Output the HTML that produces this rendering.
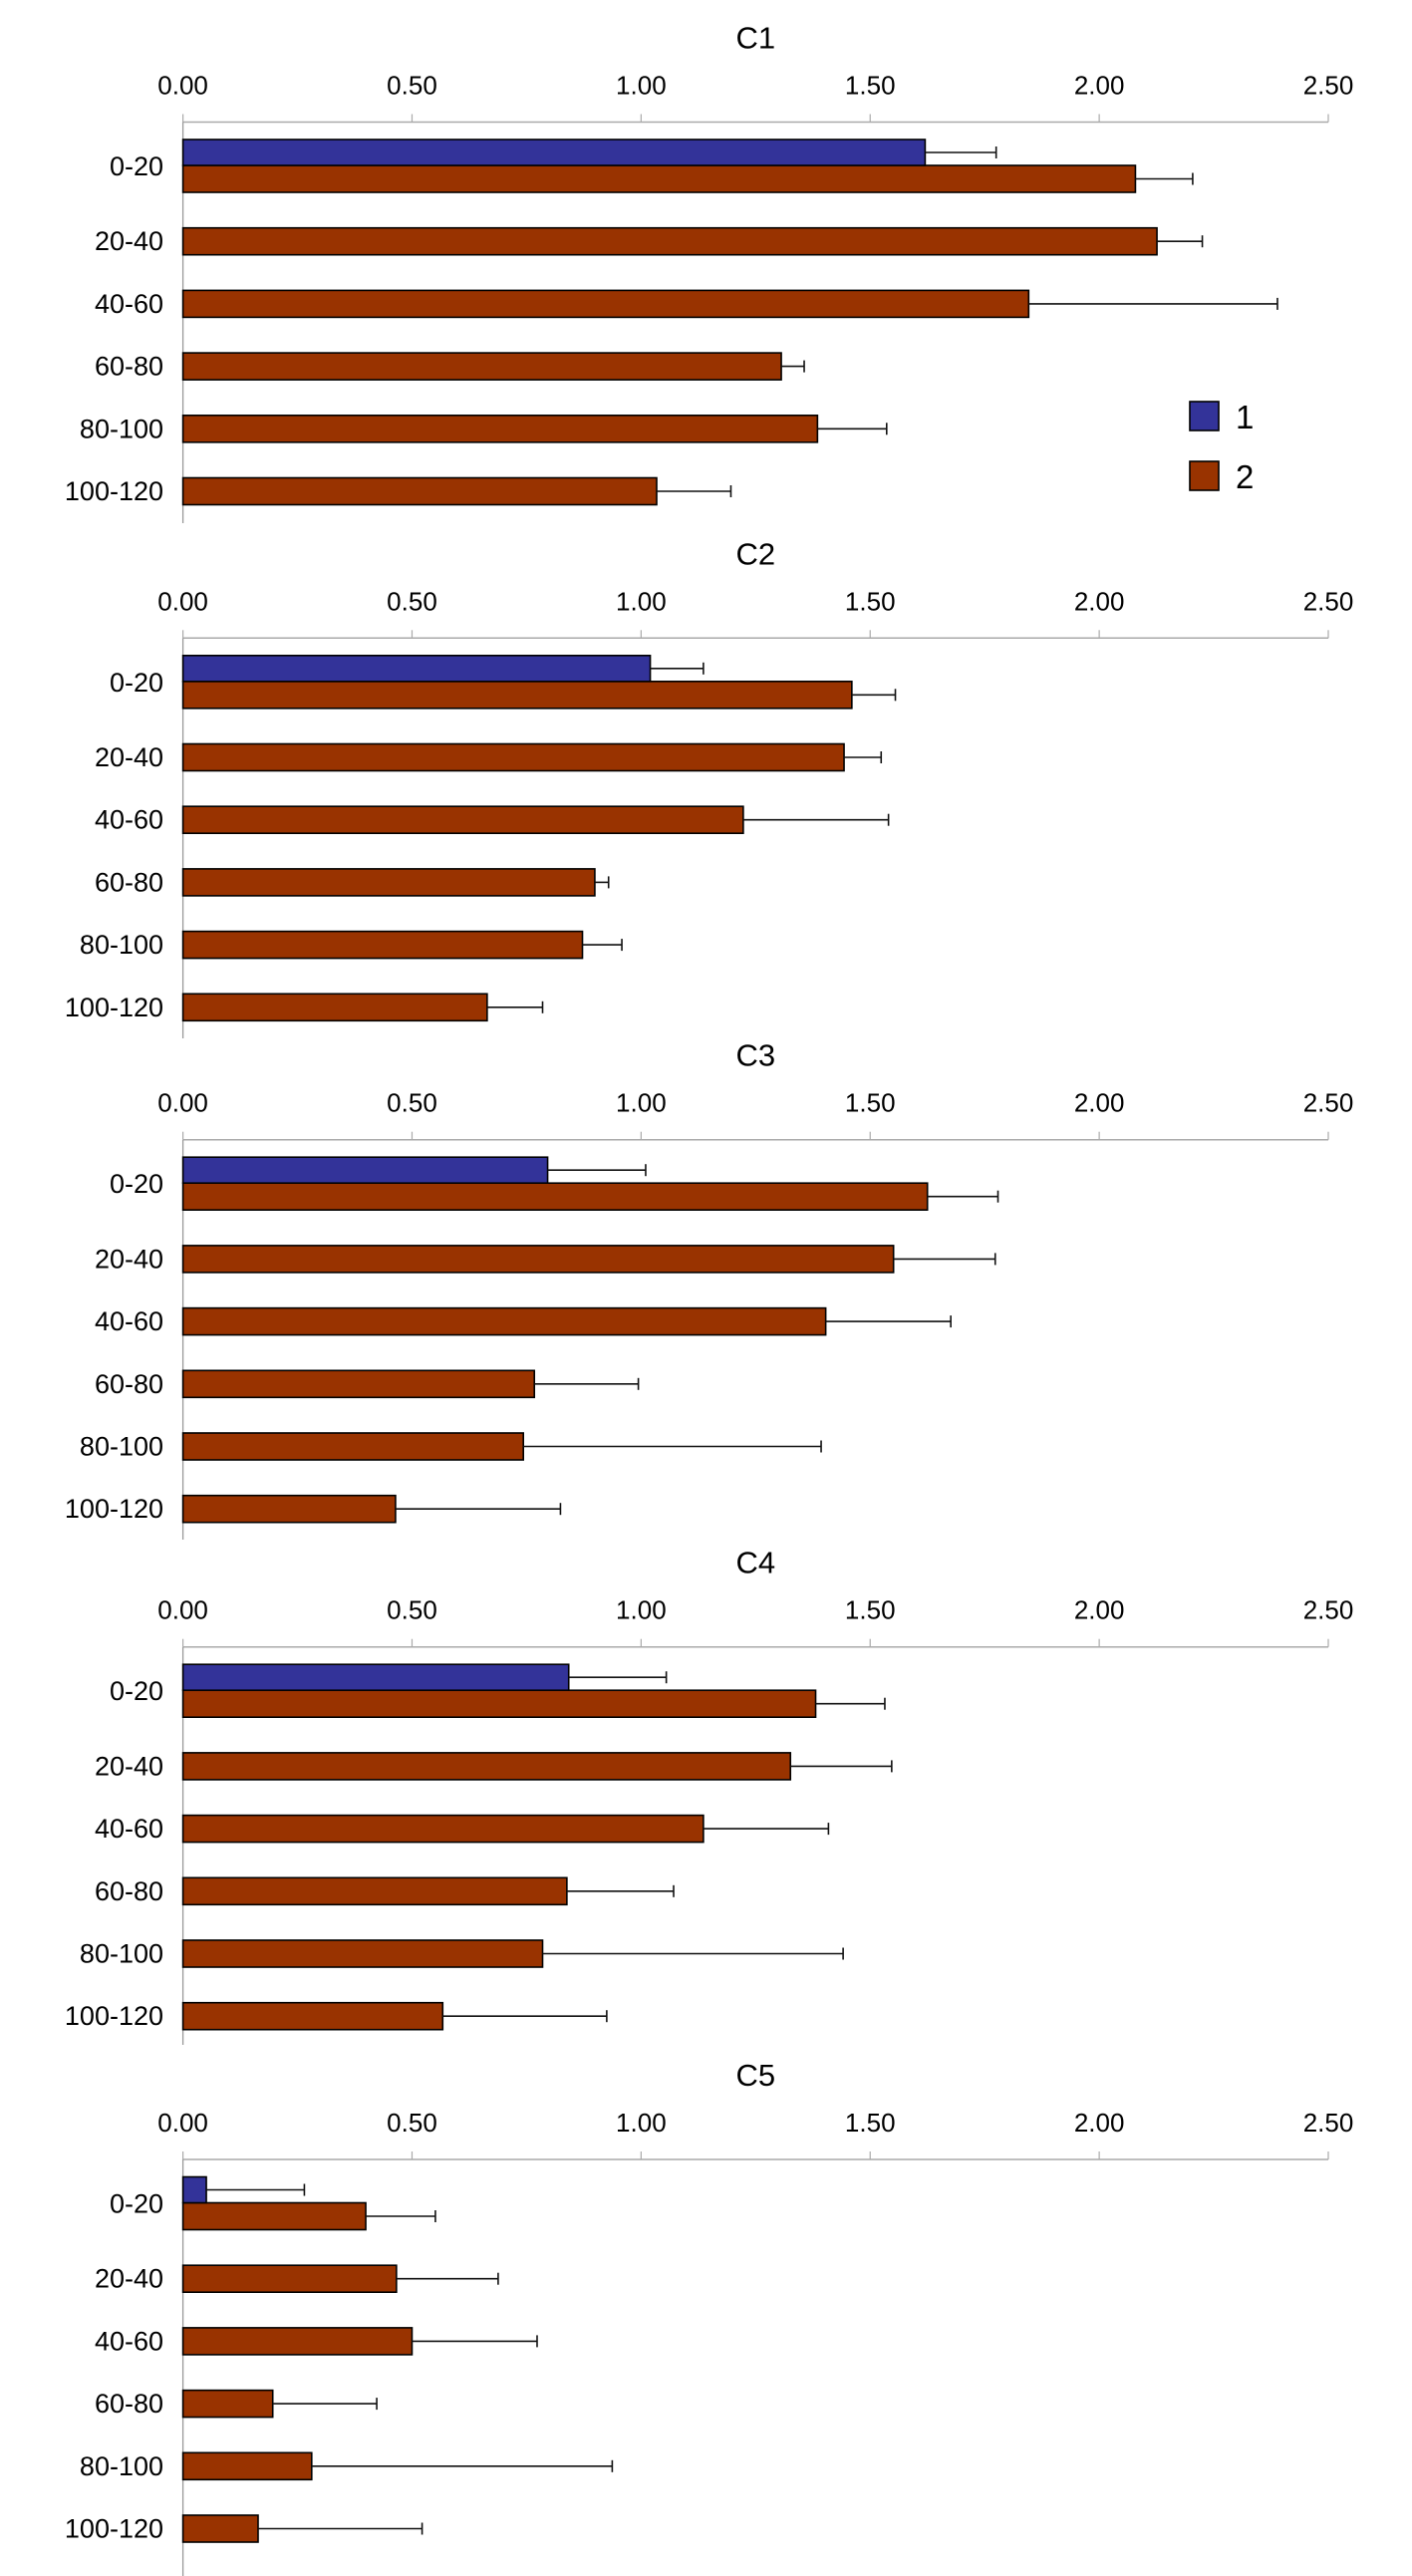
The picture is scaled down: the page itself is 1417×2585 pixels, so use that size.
<!DOCTYPE html>
<html><head><meta charset="utf-8">
<style>
html,body{margin:0;padding:0;background:#fff;}
svg{display:block;}
text{font-family:"Liberation Sans",Arial,sans-serif;fill:#000;}
</style></head>
<body>
<svg id="chart" width="1417" height="2585" viewBox="0 0 1417 2585" xmlns="http://www.w3.org/2000/svg"></svg>
<script>
const categories = ["0-20","20-40","40-60","60-80","80-100","100-120"];
const panelTitles = ["C1","C2","C3","C4","C5"];
const tickValues = [0,0.5,1,1.5,2,2.5];
const tickLabels = ["0.00","0.50","1.00","1.50","2.00","2.50"];
// series 1 (only 0-20), per panel
const series1 = [1.62, 1.02, 0.796, 0.842, 0.051];
const series1Err = [1.775, 1.136, 1.010, 1.055, 0.265];
// series 2 per panel
const c1Series2 = [2.079, 2.126, 1.846, 1.306, 1.385, 1.034];
const c1Series2Err = [2.204, 2.225, 2.389, 1.356, 1.536, 1.196];
const c2Series2 = [1.460, 1.443, 1.223, 0.899, 0.872, 0.664];
const c2Series2Err = [1.555, 1.524, 1.540, 0.929, 0.958, 0.785];
const c3Series2 = [1.625, 1.551, 1.403, 0.767, 0.743, 0.464];
const c3Series2Err = [1.779, 1.773, 1.676, 0.994, 1.393, 0.824];
const c4Series2 = [1.381, 1.326, 1.136, 0.838, 0.785, 0.567];
const c4Series2Err = [1.532, 1.547, 1.409, 1.071, 1.441, 0.925];
const c5Series2 = [0.399, 0.466, 0.500, 0.196, 0.281, 0.164];
const c5Series2Err = [0.551, 0.688, 0.773, 0.423, 0.937, 0.522];
const series2 = [c1Series2, c2Series2, c3Series2, c4Series2, c5Series2];
const series2Err = [c1Series2Err, c2Series2Err, c3Series2Err, c4Series2Err, c5Series2Err];

const svg = document.getElementById('chart');
const NS = 'http://www.w3.org/2000/svg';
const X0 = 183.6, X1 = 1333, VMAX = 2.5;
const axisYs = [122.5, 640.3, 1143.7, 1652.7, 2167];
const vBottoms = [525, 1042, 1545, 2052, 2585];
function xs(v){ return X0 + (v / VMAX) * (X1 - X0); }
function mk(tag, attrs, parent){
  const e = document.createElementNS(NS, tag);
  for (const k in attrs) e.setAttribute(k, attrs[k]);
  (parent || svg).appendChild(e);
  return e;
}
function errBar(g, x1, x2, cy){
  const l = mk('line', {x1:x1, x2:x2, y1:cy, y2:cy, stroke:'#111', 'stroke-width':1.6}, g);
  
  
  const c = mk('line', {x1:x2, x2:x2, y1:cy-6, y2:cy+6, stroke:'#111', 'stroke-width':1.6}, g);
  
  
}
for (let p = 0; p < 5; p++){
  const A = axisYs[p];
  const g = mk('g', {});
  
  
  const t = mk('text', {x:(X0+X1)/2, y:A-74, 'font-size':31, 'text-anchor':'middle'}, g);
  t.textContent = panelTitles[p];
  
  
  const ax = mk('line', {x1:X0, x2:X1, y1:A, y2:A, stroke:'#aaa', 'stroke-width':1.5}, g);
  
  
  const ya = mk('line', {x1:X0, x2:X0, y1:A, y2:vBottoms[p], stroke:'#999', 'stroke-width':1.3}, g);
  
  
  tickValues.forEach((v, i) => {
    const tk = mk('line', {x1:xs(v), x2:xs(v), y1:A-8, y2:A, stroke:'#aaa', 'stroke-width':1.2}, g);
    
    
    const tl = mk('text', {x:xs(v), y:A-28, 'font-size':26, 'text-anchor':'middle'}, g);
    tl.textContent = tickLabels[i];
    
    
  });
  categories.forEach((c, k) => {
    const top = A + 43.5 + 62.7 * k;
    const h = 27;
    const b = mk('rect', {x:X0, y:top, width:xs(series2[p][k]) - X0, height:h, fill:'#993300', stroke:'#000', 'stroke-width':1.6}, g);
    
    
    errBar(g, xs(series2[p][k]), xs(series2Err[p][k]), top + h/2);
    const cy = k === 0 ? top + 1 : top + h/2;
    const cl = mk('text', {x:164, y:cy + 9, 'font-size':27, 'text-anchor':'end'}, g);
    cl.textContent = c;
    
    
  });
  const bt = A + 17.5, bh = 26;
  const b1 = mk('rect', {x:X0, y:bt, width:xs(series1[p]) - X0, height:bh, fill:'#333399', stroke:'#000', 'stroke-width':1.6}, g);
  
  
  errBar(g, xs(series1[p]), xs(series1Err[p]), bt + bh/2);
}
const lg = mk('g', {});


[['1','#333399',403],['2','#993300',463]].forEach(([lab, col, y]) => {
  const r = mk('rect', {x:1194, y:y, width:29, height:29, fill:col, stroke:'#000', 'stroke-width':1.6}, lg);
  
  
  const tx = mk('text', {x:1240, y:y+27, 'font-size':33}, lg);
  tx.textContent = lab;
  
  
});
</script>
</body></html>
